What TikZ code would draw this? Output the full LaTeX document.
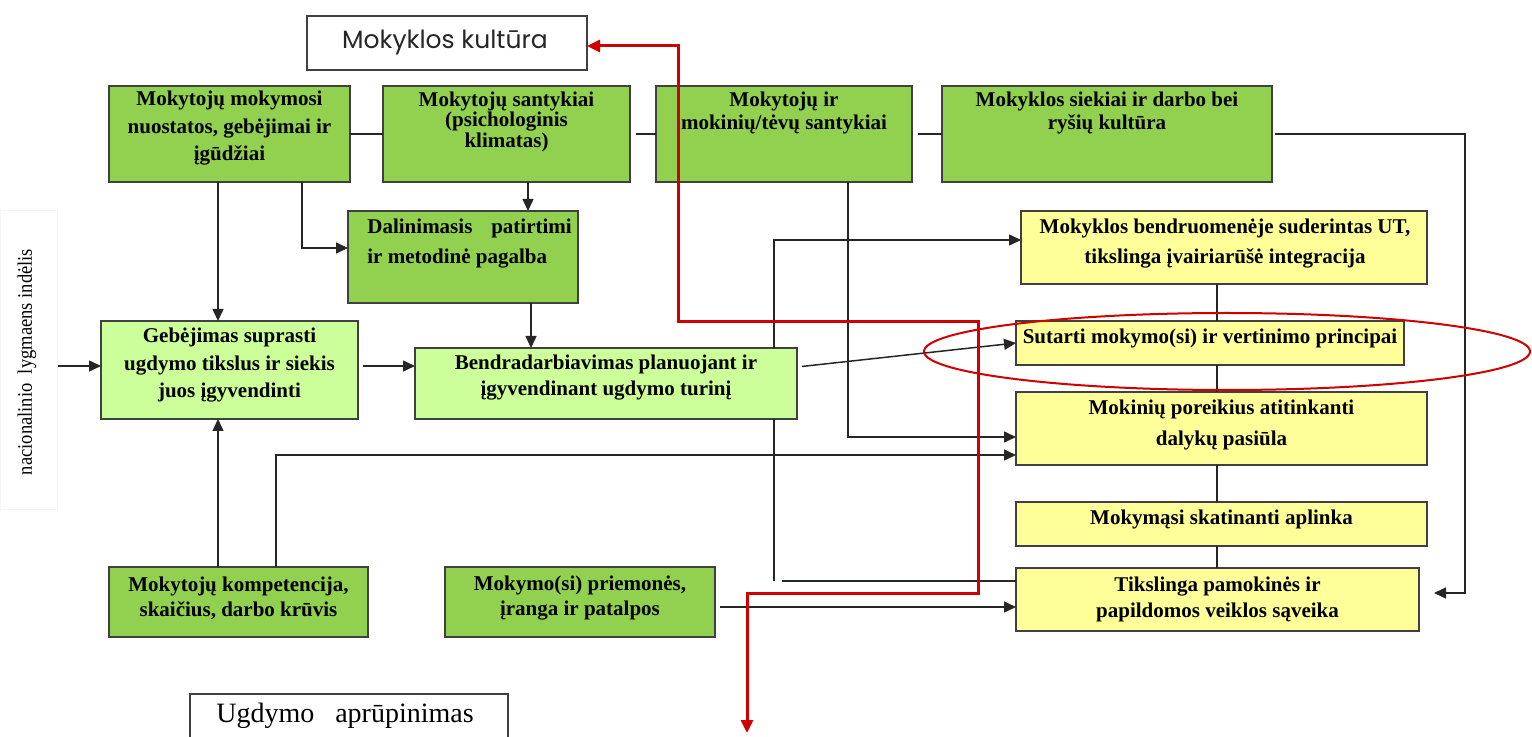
\documentclass[tikz,border=0pt]{standalone}
\usepackage{fontspec}
\setmainfont{Liberation Serif}
\newfontfamily\kulfont{Poppins}
\usetikzlibrary{arrows.meta,fit,calc}
\definecolor{dgreen}{HTML}{92D050}
\definecolor{lgreen}{HTML}{CCFF99}
\definecolor{ylw}{HTML}{FFFF99}
\definecolor{bd}{HTML}{404040}
\definecolor{lnc}{HTML}{262626}
\definecolor{rd}{HTML}{D00000}
\begin{document}
\begin{tikzpicture}[x=0.5pt,y=-0.5pt,
  box/.style={draw=bd, line width=1pt, inner sep=0pt, outer sep=0pt},
  dg/.style={box, fill=dgreen},
  lg/.style={box, fill=lgreen},
  yb/.style={box, fill=ylw},
  wb/.style={box, fill=white},
  txt/.style={font=\fontsize{10.5}{#1}\selectfont\bfseries, align=center, inner sep=0pt},
  txt/.default=13,
  conn/.style={draw=lnc, line width=0.75pt},
  arr/.style={conn, -{Triangle[length=6pt,width=5.5pt]}},
  redl/.style={draw=rd, line width=1.5pt, {Triangle[length=6.5pt,width=6pt]}-{Triangle[length=6.5pt,width=6pt]}}
]
\useasboundingbox (0,0) rectangle (1532,737);
\clip (0,0) rectangle (1532,737);

% faint side panel with vertical label
\node[draw=black!4, line width=0.5pt, inner sep=0pt, fit={(0,211)(57,510)}] (panel) {};
\node[rotate=90, font=\fontsize{10.3}{12}\selectfont, inner sep=0pt] (nat) at (27,362)
  {\scalebox{0.9}[1]{nacionalinio\ \ lygmaens indėlis}};

\coordinate (vtop) at (774,581);
\coordinate (vstart) at (782,581);
\coordinate (dn) at (1465,593);
\coordinate (nend) at (1434,593);
\coordinate (redEnd) at (747,733);

% boxes
\node[dg, fit={(109,86)(350,182)}] (A) {};
\node[dg, fit={(383,86)(630,182)}] (B) {};
\node[dg, fit={(656,86)(912,182)}] (C) {};
\node[dg, fit={(942,86)(1272,182)}] (D) {};
\node[dg, fit={(348,211)(578,303)}] (E) {};
\node[lg, fit={(101,321)(358,419)}] (F) {};
\node[lg, fit={(415,348)(797,419)}] (G) {};
\node[dg, fit={(109,567)(368,637)}] (H) {};
\node[dg, fit={(445,567)(715,637)}] (I) {};
\node[yb, fit={(1021,211)(1427,284)}] (J) {};
\node[yb, fit={(1016,321)(1404,365)}] (K) {};
\node[yb, fit={(1016,392)(1427,465)}] (L) {};
\node[yb, fit={(1016,502)(1427,546)}] (M) {};
\node[yb, fit={(1016,568)(1419,631)}] (N) {};
\node[wb, fit={(307,16)(587,70)}] (MK) {};
\node[wb, fit={(190,694)(508,760)}] (U) {};

% connectors
\draw[conn] (A.east) -- (B.west);
\draw[conn, shorten <=3pt] (B.east) -- (C.west);
\draw[conn, shorten <=3pt] (C.east) -- (D.west);
\draw[arr] (A.south -| 218,0) -- (F.north -| 218,0);
\draw[arr] (A.south -| 302,0) |- (E.west |- 0,248);
\draw[arr] (B.south -| 528,0) -- (E.north -| 528,0);
\draw[arr] (E.south -| 531,0) -- (G.north -| 531,0);
\draw[arr] (panel.east |- 0,366) -- (F.west |- 0,366);
\draw[arr, shorten <=2.5pt] (F.east |- 0,366) -- (G.west |- 0,366);
\draw[arr] (H.north -| 218,0) -- (F.south -| 218,0);
\draw[arr] (H.north -| 276,0) |- (L.west |- 0,455);
\draw[arr] (C.south -| 848,0) |- (L.west |- 0,437);
\draw[conn] (vtop) -- (G.south -| vtop);
\draw[arr] (G.north -| vtop) |- (J.west |- 0,240);
\draw[conn] (vstart) -- (N.west |- vstart);
\draw[arr, shorten <=2.5pt] (G.east |- 0,367) -- (K.west);
\draw[arr, shorten <=2.5pt] (I.east |- 0,607) -- (N.west |- 0,607);
\draw[arr, shorten <=1.5pt] (D.east) -| (dn) -- (nend);
\draw[conn] (J.south -| 1217,0) -- (K.north -| 1217,0);
\draw[conn] (K.south -| 1217,0) -- (L.north -| 1217,0);
\draw[conn] (L.south -| 1217,0) -- (M.north -| 1217,0);
\draw[conn] (M.south -| 1217,0) -- (N.north -| 1217,0);

% texts
\node[font=\kulfont\fontsize{12.5}{14}\selectfont, text=black!85, inner sep=0pt] (MKt) at (445,42) {Mokyklos kultūra};
\node[font=\fontsize{14}{16}\selectfont, inner sep=0pt] (Ut) at (345,716) {Ugdymo\ \ \ aprūpinimas};
\node[txt=13.75] (At) at (229.5,128.5) {Mokytojų mokymosi\\nuostatos, gebėjimai ir\\įgūdžiai};
\node[txt=10.25] (Bt) at (506.5,121.5) {Mokytojų santykiai\\(psichologinis\\klimatas)};
\node[txt=11.5] (Ct) at (784,112.5) {Mokytojų ir\\mokinių/tėvų santykiai};
\node[txt=11.5] (Dt) at (1107,112.5) {Mokyklos siekiai ir darbo bei\\ryšių kultūra};
\node[txt=15, align=left, anchor=west] (Et) at (367,244) {Dalinimasis\hspace{0.9em}patirtimi\\ir metodinė pagalba};
\node[txt=13.75] (Ft) at (229.5,365.5) {Gebėjimas suprasti\\ugdymo tikslus ir siekis\\juos įgyvendinti};
\node[txt=13] (Gt) at (606,378) {Bendradarbiavimas planuojant ir\\įgyvendinant ugdymo turinį};
\node[txt=12.5] (Ht) at (238.5,598.5) {Mokytojų kompetencija,\\skaičius, darbo krūvis};
\node[txt=12.5] (It) at (580,598.5) {Mokymo(si) priemonės,\\įranga ir patalpos};
\node[txt=15] (Jt) at (1225,244) {Mokyklos bendruomenėje suderintas UT,\\tikslinga įvairiarūšė integracija};
\node[txt] (Kt) at (1210,338) {Sutarti mokymo(si) ir vertinimo principai};
\node[txt=15.5] (Lt) at (1221.5,424.5) {Mokinių poreikius atitinkanti\\dalykų pasiūla};
\node[txt] (Mt) at (1221.5,519) {Mokymąsi skatinanti aplinka};
\node[txt=13] (Nt) at (1217.5,599) {Tikslinga pamokinės ir\\papildomos veiklos sąveika};

% red overlay
\draw[redl] (MK.east |- 0,46) -| (678,322) -| (978,593) -| (redEnd);
\draw[draw=rd, line width=1pt] (1227,351.5) ellipse [x radius=151.5pt, y radius=19.25pt];
\end{tikzpicture}
\end{document}
